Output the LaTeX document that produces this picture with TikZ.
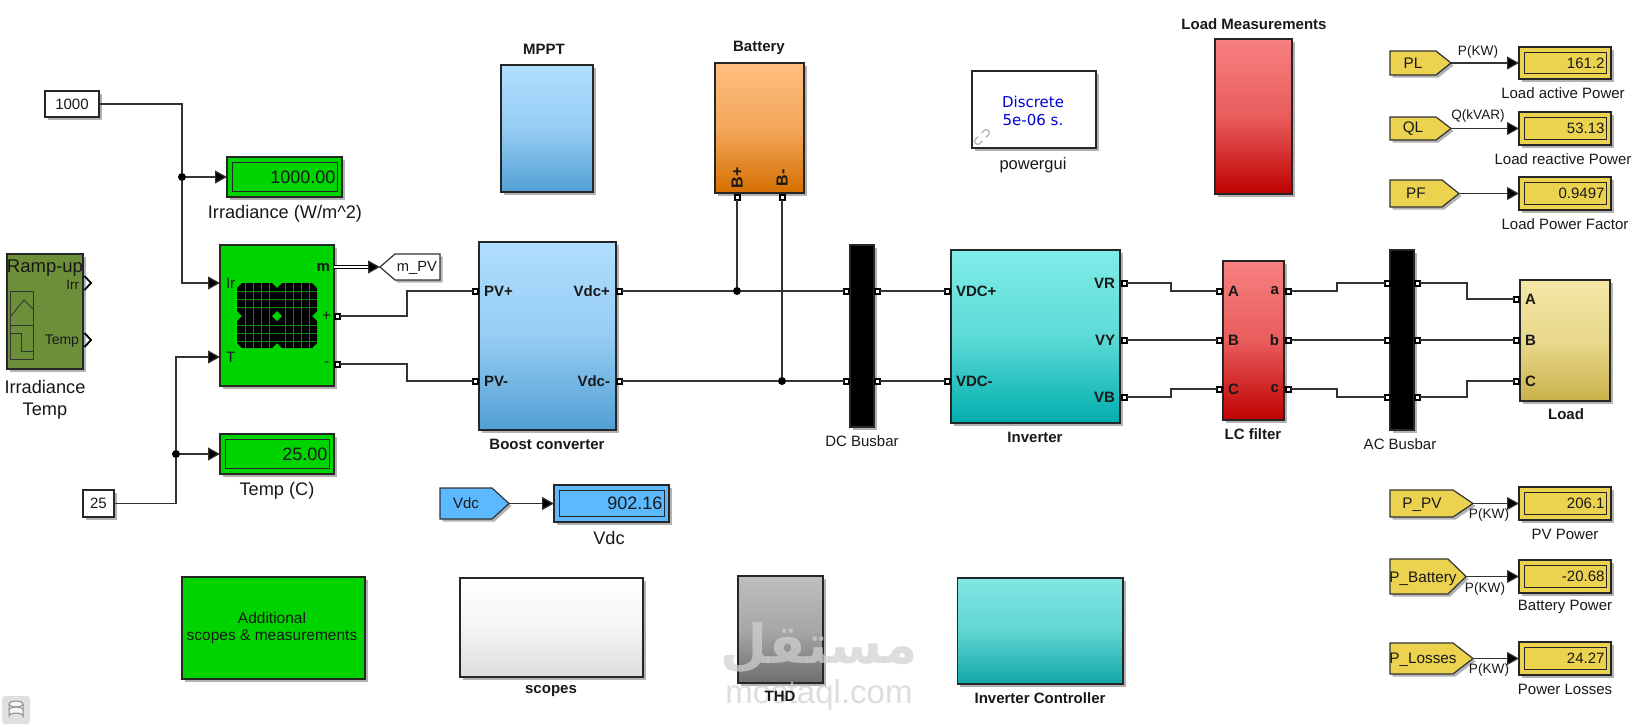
\documentclass[tikz,border=0pt]{standalone}
\usepackage{fontspec}
\setmainfont{Liberation Sans}
\newfontfamily\dejavu{DejaVu Sans}
\newfontfamily\arabicwm[Script=Arabic]{DejaVu Sans}
\TeXXeTstate=1
\usetikzlibrary{arrows.meta,shadows,calc}
\definecolor{wirec}{HTML}{333333}
\definecolor{pvgreen}{HTML}{00D400}
\definecolor{dyellow}{HTML}{EBD24F}
\definecolor{dblue}{HTML}{5CB8FF}
\definecolor{olive}{HTML}{6E8F3A}
\definecolor{skyT}{HTML}{B0DEFF}
\definecolor{skyB}{HTML}{529FD4}
\definecolor{orT}{HTML}{FFBE80}
\definecolor{orB}{HTML}{D66F00}
\definecolor{redT}{HTML}{F88080}
\definecolor{redB}{HTML}{C00000}
\definecolor{tealT}{HTML}{80ECE8}
\definecolor{tealB}{HTML}{00ADAD}
\definecolor{teal2T}{HTML}{80E6E2}
\definecolor{teal2B}{HTML}{0FA8A8}
\definecolor{yelT}{HTML}{F4E7A6}
\definecolor{yelB}{HTML}{C9B24A}
\definecolor{gryT}{HTML}{BEBEBE}
\definecolor{gryB}{HTML}{6E6E6E}
\definecolor{whtB}{HTML}{DCDCDC}
\definecolor{gridc}{HTML}{0A8A0A}
\tikzset{
  softshadow/.style={general shadow={fill=black,opacity=.3,shadow xshift=2.5pt,shadow yshift=-2.5pt}},
  blockbox/.style={draw=black!85,line width=1.2pt,inner sep=0pt,outer sep=0pt,softshadow},
  portbox/.style={draw=black,fill=white,line width=2pt,minimum size=5pt,inner sep=0pt,outer sep=0pt},
  wire/.style={draw=wirec,line width=1.2pt},
  sigwire/.style={wire,-{Triangle[length=12pt,width=13pt,fill=black]}},
  junction/.style={circle,fill=black,minimum size=8pt,inner sep=0pt,outer sep=0pt},
  tagline/.style={draw=black!80,line width=1.2pt,softshadow},
  lbl/.style={inner sep=0pt,outer sep=0pt,text=black!90},
  bl/.style={lbl,font=\fontsize{15}{17}\selectfont\bfseries},
  pl/.style={lbl,font=\fontsize{15}{18}\selectfont\bfseries},
  rg/.style={lbl,font=\fontsize{15}{18}\selectfont},
  tg/.style={lbl,font=\fontsize{15.3}{18}\selectfont},
  big/.style={lbl,font=\fontsize{18.2}{21}\selectfont},
  sm/.style={lbl,font=\fontsize{13.6}{16}\selectfont},
}
% name x1 y1 x2 y2 topcolor bottomcolor
\newcommand\blk[7]{\node[blockbox,top color=#6,bottom color=#7,middle color=#6!72!#7,
  minimum width={(#4-(#2))*1pt},minimum height={(#5-(#3))*1pt}] (#1) at ({(#2+#4)/2},{(#3+#5)/2}) {};}
% name x y
\newcommand\prt[3]{\node[portbox] (#1) at (#2,#3) {};}
% name x1 y1 x2 y2 colour value fontsize
\newcommand\dsp[8]{\node[blockbox,fill=#6,line width=1.5pt,
  minimum width={(#4-(#2))*1pt},minimum height={(#5-(#3))*1pt}] (#1) at ({(#2+#4)/2},{(#3+#5)/2}) {};
  \draw[black!85,line width=1pt] ({#2+5},{#3+5.5}) rectangle ({#4-5},{#5-6});
  \node[lbl,anchor=east,font=\fontsize{#8}{#8}\selectfont] (#1v) at ({#4-6.5},{(#3+#5)/2}) {#7};}
% name x1 y1 xbody xtip y2 colour
\newcommand\tagp[7]{\draw[tagline,fill=#7] (#2,#3)--(#4,#3)--(#5,{(#3+#6)/2})--(#4,#6)--(#2,#6)--cycle;
  \coordinate (#1) at (#5,{(#3+#6)/2});}
\begin{document}
\begin{tikzpicture}[x=1pt,y=-1pt]
\useasboundingbox (0,0) rectangle (1639,726);
\fill[white] (0,0) rectangle (1639,726);

% ---- left sources
\node[blockbox,fill=white,minimum width=54pt,minimum height=26pt] (c1000) at (72,104) {};
\node[rg] (c1000t) at (72,104) {1000};
\node[blockbox,fill=white,minimum width=31pt,minimum height=27pt] (c25) at (98.5,503.5) {};
\node[rg] (c25t) at (98.5,503.5) {25};

% Ramp-up block
\node[blockbox,fill=olive,minimum width=76pt,minimum height=115pt] (ramp) at (45,311.5) {};
\node[lbl,font=\fontsize{18.5}{20}\selectfont] (rampt) at (45,268) {Ramp-up};
\node[lbl,anchor=east,font=\fontsize{13.5}{16}\selectfont] (rampi) at (79,285) {Irr};
\node[lbl,anchor=east,font=\fontsize{14}{16}\selectfont] (rampT) at (79,341) {Temp};
\draw[black!80,line width=.9pt] (10,291) rectangle (33,359) (10,325)--(33,325);
\draw[black!80,line width=.9pt] (10,317)--(24,300)--(33,309);
\draw[black!80,line width=.9pt] (10,333)--(21,333)--(21,351)--(33,351);
\draw[black,line width=1.8pt] (84.5,276)--(91,283)--(84.5,290);
\draw[black,line width=1.8pt] (84.5,333)--(91,340)--(84.5,347);
\node[big,align=center] (rampl) at (45,400) {Irradiance\\[1pt]Temp};

% PV array
\node[blockbox,fill=pvgreen,minimum width=114pt,minimum height=141pt] (pv) at (277,315.5) {};
\begin{scope}
\path[clip,preaction={fill=black}] (242,283)--(272,283)--(277,288)--(282,283)--(312,283)--(317,288)--(317,311)--(312,316)--(317,321)--(317,343)--(312,348)--(282,348)--(277,343)--(272,348)--(242,348)--(237,343)--(237,321)--(242,316)--(237,311)--(237,288)--cycle;
\foreach \vx in {245,253,261,269,285,293,301,309}{\draw[gridc,line width=.5pt] (\vx,283)--(\vx,348);}
\foreach \hy in {291,299,307,325,333,341}{\draw[gridc,line width=.5pt] (237,\hy)--(317,\hy);}
\end{scope}
\fill[pvgreen] (277,311)--(282,316)--(277,321)--(272,316)--cycle;
\node[rg] (pvIr) [anchor=west] at (226,283) {Ir};
\node[rg] (pvT) [anchor=west] at (226,357) {T};
\node[rg] (pvm) [anchor=east] at (330,267) {\textbf{m}};
\node[rg] (pvp) [anchor=east] at (331,316) {+};
\node[rg] (pvn) [anchor=east] at (329,364) {-};
\coordinate (pvInIr) at (220,283);
\coordinate (pvInT) at (220,357);
\coordinate (pvOutM) at (334,267);
\prt{pvPlus}{337.5}{316}
\prt{pvMinus}{337.5}{364}

\tagp{mpv}{440}{254}{395}{380}{280}{white}
\node[lbl,font=\fontsize{14.7}{17}\selectfont] (mpvt) at (417,268) {m\_PV};

% displays left
\dsp{dIrr}{227}{157}{342}{197}{pvgreen}{1000.00}{18}
\node[big] (dIrrl) at (285,213.5) {Irradiance (W/m\textasciicircum 2)};
\dsp{dTemp}{220}{434}{334}{474}{pvgreen}{25.00}{18}
\node[big] (dTempl) at (277,491) {Temp (C)};
\tagp{vdcT}{440}{488}{492}{509}{519}{dblue}
\node[lbl,font=\fontsize{15}{18}\selectfont] (vdcTt) at (466,503) {Vdc};
\dsp{dVdc}{554}{485}{669}{522}{dblue}{902.16}{18}
\node[big] (dVdcl) at (609,538) {Vdc};

% left wiring
\node[junction] (j1000) at (182,177) {};
\node[junction] (j25) at (176,454) {};
\coordinate (c1000bend) at (182,104);
\coordinate (c25bend) at (176,503.5);
\draw[wire] (c1000) -- (c1000bend) -- (j1000);
\draw[sigwire] (j1000) -- (dIrr.west);
\draw[sigwire] (j1000) |- (pvInIr);
\draw[wire] (c25) -- (c25bend) -- (j25);
\draw[sigwire] (j25) -- (dTemp.west);
\draw[sigwire] (j25) |- (pvInT);
\draw[black,line width=3.6pt] (pvOutM) -- (369,267);
\draw[white,line width=1.2pt] (pvOutM) -- (369,267);
\draw[sigwire] (369,267) -- (mpv);
\draw[sigwire] (vdcT) -- (dVdc.west);

% ---- top blocks
\blk{mppt}{501}{65}{593}{192}{skyT}{skyB}
\node[bl] (mpptl) at (544,49) {MPPT};
\blk{batt}{715}{63}{804}{193}{orT}{orB}
\node[bl] (battl) at (759,48) {Battery};
\node[bl,rotate=90,font=\fontsize{16}{18}\selectfont\bfseries] (bplus) at (737,178) {B+};
\node[bl,rotate=90,font=\fontsize{16}{18}\selectfont\bfseries] (bminus) at (782,178) {B-};
\prt{bP}{737}{197.5}
\prt{bM}{782}{197.5}

\node[blockbox,fill=white,minimum width=124pt,minimum height=77pt] (pgui) at (1034,109.5) {};
\node[lbl,align=center,text=blue!85!black,font=\fontsize{15}{18}\selectfont\dejavu] (pguit) at (1033,111) {Discrete\\5e-06 s.};
\begin{scope}[rotate around={45:(982,137)}]
\draw[gray!60,line width=1.2pt,rounded corners=2.5pt] (979.5,134)--(973,134)--(973,140)--(979.5,140);
\draw[gray!60,line width=1.2pt,rounded corners=2.5pt] (984.5,134)--(991,134)--(991,140)--(984.5,140);
\end{scope}
\node[lbl,font=\fontsize{16.5}{19}\selectfont] (pguil) at (1033,165) {powergui};

\blk{lmeas}{1215}{39}{1292}{194}{redT}{redB}
\node[bl] (lmeasl) at (1254,24) {Load Measurements};

% ---- power row
\blk{boost}{479}{242}{616}{430}{skyT}{skyB}
\node[pl,anchor=west] (bPVp) at (484,291) {PV+};
\node[pl,anchor=west] (bPVm) at (484,381) {PV-};
\node[pl,anchor=east] (bVp) at (610,291) {Vdc+};
\node[pl,anchor=east] (bVm) at (610,381) {Vdc-};
\node[bl] (boostl) at (547,444) {Boost converter};
\prt{bIn1}{475}{291}
\prt{bIn2}{475}{381}
\prt{bOut1}{619.5}{291}
\prt{bOut2}{619.5}{381}

\node[blockbox,fill=black,minimum width=24pt,minimum height=182pt] (dcbus) at (862,336) {};
\node[rg] (dcbusl) at (862,441) {DC Busbar};
\prt{dcL1}{846.5}{291}
\prt{dcL2}{846.5}{381}
\prt{dcR1}{877.5}{291}
\prt{dcR2}{877.5}{381}

\blk{inv}{951}{250}{1120}{423}{tealT}{tealB}
\node[pl,anchor=west] (iVp) at (956,291) {VDC+};
\node[pl,anchor=west] (iVm) at (956,381) {VDC-};
\node[pl,anchor=east] (iR) at (1115,283) {VR};
\node[pl,anchor=east] (iY) at (1115,340) {VY};
\node[pl,anchor=east] (iB) at (1115,397) {VB};
\node[bl] (invl) at (1035,437) {Inverter};
\prt{iL1}{947}{291}
\prt{iL2}{947}{381}
\prt{iO1}{1124}{283}
\prt{iO2}{1124}{340}
\prt{iO3}{1124}{397}

\blk{lc}{1223}{261}{1284}{420}{redT}{redB}
\node[pl,anchor=west] (lA) at (1228,291) {A};
\node[pl,anchor=west] (lB) at (1228,340) {B};
\node[pl,anchor=west] (lC) at (1228,389) {C};
\node[pl,anchor=east] (la) at (1279,291) {a};
\node[pl,anchor=east] (lb) at (1279,340) {b};
\node[pl,anchor=east] (lc2) at (1279,389) {c};
\node[bl] (lcl) at (1253,434) {LC filter};
\prt{lcI1}{1219}{291}
\prt{lcI2}{1219}{340}
\prt{lcI3}{1219}{389}
\prt{lcO1}{1288}{291}
\prt{lcO2}{1288}{340}
\prt{lcO3}{1288}{389}

\node[blockbox,fill=black,minimum width=24pt,minimum height=180pt] (acbus) at (1402,340) {};
\node[rg] (acbusl) at (1400,444) {AC Busbar};
\prt{acL1}{1387}{283}
\prt{acL2}{1387}{340}
\prt{acL3}{1387}{397}
\prt{acR1}{1417}{283}
\prt{acR2}{1417}{340}
\prt{acR3}{1417}{397}

\blk{load}{1520}{280}{1610}{401}{yelT}{yelB}
\node[pl,anchor=west] (loA) at (1525,299) {A};
\node[pl,anchor=west] (loB) at (1525,340) {B};
\node[pl,anchor=west] (loC) at (1525,381) {C};
\node[bl] (loadl) at (1566,414) {Load};
\prt{loI1}{1516}{299}
\prt{loI2}{1516}{340}
\prt{loI3}{1516}{381}

% power wiring
\coordinate (s1) at (407,316);
\coordinate (s2) at (407,364);
\draw[wire] (pvPlus) -- (s1) |- (bIn1);
\draw[wire] (pvMinus) -- (s2) |- (bIn2);
\node[junction] (j1) at (737,291) {};
\node[junction] (j2) at (782,381) {};
\draw[wire] (bOut1) -- (j1) -- (dcL1);
\draw[wire] (bOut2) -- (j2) -- (dcL2);
\draw[wire] (bP) -- (j1);
\draw[wire] (bM) -- (j2);
\draw[wire] (dcR1) -- (iL1);
\draw[wire] (dcR2) -- (iL2);
\coordinate (s3) at (1171,283);
\coordinate (s4) at (1171,397);
\draw[wire] (iO1) -- (s3) |- (lcI1);
\draw[wire] (iO2) -- (lcI2);
\draw[wire] (iO3) -- (s4) |- (lcI3);
\coordinate (s5) at (1337,291);
\coordinate (s6) at (1337,389);
\draw[wire] (lcO1) -- (s5) |- (acL1);
\draw[wire] (lcO2) -- (acL2);
\draw[wire] (lcO3) -- (s6) |- (acL3);
\coordinate (s7) at (1467,283);
\coordinate (s8) at (1467,397);
\draw[wire] (acR1) -- (s7) |- (loI1);
\draw[wire] (acR2) -- (loI2);
\draw[wire] (acR3) -- (s8) |- (loI3);

% ---- right measurements
\tagp{tPL}{1390}{51}{1436}{1451}{75}{dyellow}
\node[tg] (tPLt) at (1413,63) {PL};
\dsp{dPL}{1519}{47}{1611}{79}{dyellow}{161.2}{15}
\draw[sigwire] (tPL) -- (dPL.west);
\node[sm] (wPL) at (1478,52) {P(KW)};
\node[rg] (dPLl) at (1563,93) {Load active Power};

\tagp{tQL}{1390}{117}{1436}{1451}{140}{dyellow}
\node[tg] (tQLt) at (1413,128.5) {QL};
\dsp{dQL}{1519}{112}{1611}{145}{dyellow}{53.13}{15}
\draw[sigwire] (tQL) -- (dQL.west);
\node[sm] (wQL) at (1478,116) {Q(kVAR)};
\node[rg] (dQLl) at (1563,159) {Load reactive Power};

\tagp{tPF}{1390}{180}{1442}{1459}{207}{dyellow}
\node[tg] (tPFt) at (1416,193.5) {PF};
\dsp{dPF}{1519}{177}{1611}{210}{dyellow}{0.9497}{15}
\draw[sigwire] (tPF) -- (dPF.west);
\node[rg] (dPFl) at (1565,224) {Load Power Factor};

\tagp{tPV}{1390}{490}{1453}{1473}{517}{dyellow}
\node[tg] (tPVt) at (1422,505) {P\_PV};
\dsp{dPV}{1519}{487}{1611}{520}{dyellow}{206.1}{15}
\draw[sigwire] (tPV) -- (dPV.west);
\node[sm] (wPV) at (1489,515) {P(KW)};
\node[rg] (dPVl) at (1565,534) {PV Power};

\tagp{tBat}{1390}{559}{1448}{1466}{594}{dyellow}
\node[tg] (tBatt) at (1423,578.5) {P\_Battery};
\dsp{dBat}{1519}{560}{1611}{593}{dyellow}{-20.68}{15}
\draw[sigwire] (tBat) -- (dBat.west);
\node[sm] (wBat) at (1485,589) {P(KW)};
\node[rg] (dBatl) at (1565,607) {Battery Power};

\tagp{tLos}{1390}{643}{1453}{1473}{674}{dyellow}
\node[tg] (tLost) at (1423,660) {P\_Losses};
\dsp{dLos}{1519}{642}{1611}{675}{dyellow}{24.27}{15}
\draw[sigwire] (tLos) -- (dLos.west);
\node[sm] (wLos) at (1489,670) {P(KW)};
\node[rg] (dLosl) at (1565,689) {Power Losses};

% ---- bottom blocks
\node[blockbox,fill=pvgreen,minimum width=183pt,minimum height=102pt] (addl) at (273.5,628) {};
\node[lbl,align=center,font=\fontsize{15.5}{17}\selectfont] (addlt) at (272,628) {Additional\\scopes \& measurements};
\blk{scopes}{460}{578}{643}{677}{white}{whtB}
\node[bl] (scopesl) at (551,691) {scopes};
\blk{thd}{738}{576}{823}{683}{gryT}{gryB}
\blk{ictrl}{957.5}{578}{1123}{684}{teal2T}{teal2B}
\node[bl] (ictrll) at (1040,698) {Inverter Controller};

% watermark
\begin{scope}[opacity=.72]
\node[inner sep=0pt,text=black!18,font=\fontsize{54}{54}\selectfont\bfseries\arabicwm] (wmA) at (819,648) {\beginR مستقل\endR};
\node[inner sep=0pt,text=black!18,font=\fontsize{33}{33}\selectfont] (wmB) at (819,695) {mostaql.com};
\end{scope}
\node[bl] (thdl) at (780,696) {THD};

% bottom-left icon
\fill[black!12,rounded corners=3pt] (2,696) rectangle (30,724);
\draw[black!45,line width=1pt,fill=black!4] (9,704)--(9,716) arc[start angle=180,end angle=360,x radius=7,y radius=3] -- (23,704);
\draw[black!45,line width=1pt,fill=black!4] (16,704) ellipse[x radius=7,y radius=3];
\draw[black!45,line width=.8pt] (9,710) arc[start angle=180,end angle=360,x radius=7,y radius=3];
\end{tikzpicture}
\end{document}
